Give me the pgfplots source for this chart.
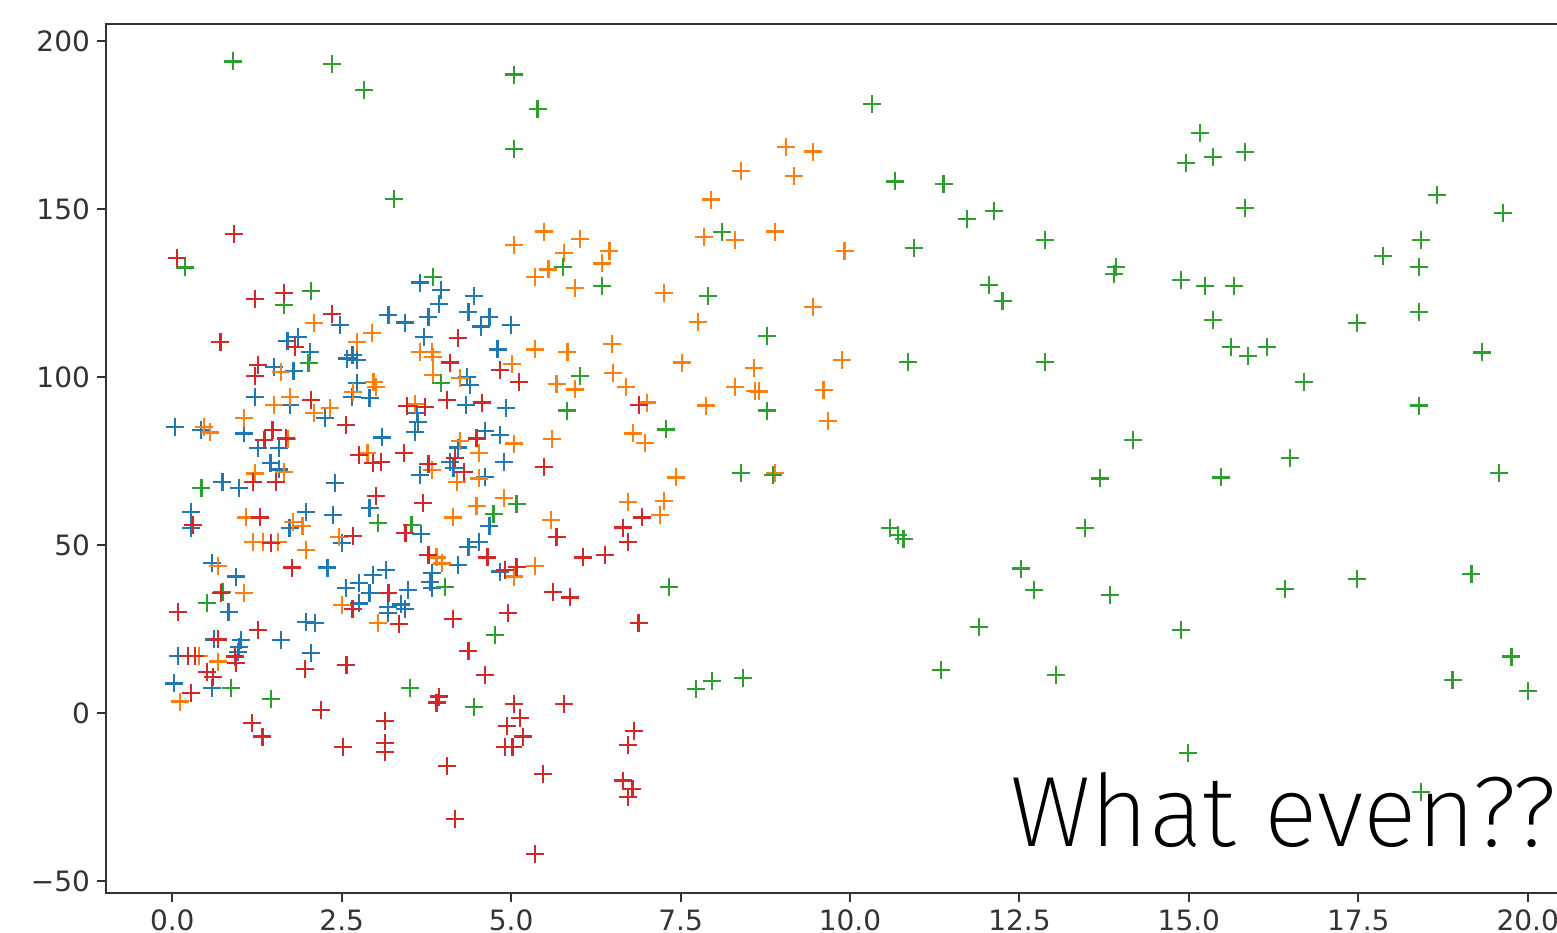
\documentclass[border=0pt]{standalone}
\usepackage{fontspec}
\usepackage{pgfplots}
\pgfplotsset{compat=1.18}
\newfontfamily\dejavu{DejaVu Sans}
\IfFontExistsTF{Fira Sans ExtraLight}{%
  \newfontfamily\thinfont{Fira Sans ExtraLight}\def\thinsize{50}}{%
  \IfFontExistsTF{Fira Sans Light}{%
    \newfontfamily\thinfont{Fira Sans Light}\def\thinsize{50}}{%
    \IfFontExistsTF{Lato Light}{%
      \newfontfamily\thinfont{Lato Light}\def\thinsize{52}}{%
      \IfFontExistsTF{Open Sans Light}{%
        \newfontfamily\thinfont{Open Sans Light}\def\thinsize{50}}{%
        \newfontfamily\thinfont{Lato}\def\thinsize{52}}}}}
\definecolor{cblue}{HTML}{1F77B4}
\definecolor{corange}{HTML}{FF7F0E}
\definecolor{cgreen}{HTML}{2CA02C}
\definecolor{cred}{HTML}{D62728}
\pgfplotstableread{
x y
0.04 85.0
0.42 84.2
1.06 83.2
2.48 115.4
3.19 118.5
3.43 116.2
1.70 110.7
1.85 111.8
2.03 107.5
2.58 105.5
2.66 106.5
2.72 105.0
1.50 102.9
1.79 101.8
2.72 98.3
2.65 94.1
2.91 93.7
1.22 94.1
1.74 91.7
2.25 87.7
3.10 82.0
1.26 78.8
1.58 78.8
1.45 74.3
1.57 72.5
0.74 68.8
0.98 66.9
2.40 68.5
0.28 59.9
0.28 55.0
1.97 59.9
2.37 58.9
2.91 60.9
1.73 55.0
2.51 50.5
0.59 44.7
2.29 43.3
0.94 40.6
0.83 30.1
2.56 37.1
2.76 38.6
2.96 41.1
3.15 42.6
2.91 35.8
2.76 32.6
3.18 31.6
3.18 29.7
3.37 32.3
3.43 31.0
1.97 27.2
2.10 26.7
1.61 21.7
0.62 21.9
1.01 21.7
0.99 19.7
0.97 18.2
0.09 17.0
2.05 17.8
0.03 8.8
0.59 7.4
3.66 128.1
3.97 125.9
4.45 124.1
3.94 121.7
4.37 119.4
4.68 117.9
4.55 115.0
5.00 115.5
3.78 117.9
3.71 112.0
4.80 108.2
4.35 100.1
4.39 97.6
3.61 89.2
3.63 86.7
3.58 83.7
4.33 91.7
4.92 90.7
4.61 84.0
4.84 82.7
4.22 79.0
3.66 70.8
4.10 74.8
4.15 72.8
4.62 70.3
4.89 74.8
4.68 55.7
3.67 53.3
4.37 49.5
4.53 51.0
4.21 44.0
4.84 42.1
3.83 41.6
3.80 39.1
3.83 37.1
3.48 36.6
}\blue
\pgfplotstableread{
x y
2.09 116.1
2.72 110.5
2.95 113.0
1.61 101.6
2.97 98.6
3.00 97.1
2.67 95.6
1.50 91.7
1.74 94.1
2.09 89.4
2.33 90.7
0.47 85.2
0.56 83.5
1.06 87.7
1.70 81.5
2.88 77.3
1.65 71.8
1.22 71.3
1.09 58.2
1.78 56.9
1.92 55.7
1.19 51.0
1.34 51.0
1.56 51.0
1.97 48.5
2.46 52.5
0.67 43.8
1.06 35.8
2.51 32.1
3.03 26.7
0.39 17.0
0.67 15.3
0.11 3.4
5.48 143.3
5.04 139.3
6.02 141.0
5.78 137.0
6.45 137.6
6.34 133.8
5.55 132.0
5.35 129.7
5.94 126.4
7.25 124.9
3.66 107.5
3.83 107.5
3.85 106.0
5.35 108.2
5.83 107.5
6.49 109.8
7.52 104.3
5.01 103.8
3.85 100.6
4.24 99.6
5.67 97.9
5.94 96.3
6.50 101.3
6.69 97.1
7.00 92.4
6.80 83.2
6.97 80.4
3.58 92.0
4.25 81.0
5.04 80.2
5.60 81.5
3.83 72.3
4.20 68.8
4.53 77.3
4.53 69.8
7.43 70.1
4.14 58.2
4.49 61.6
4.89 63.9
5.59 57.4
6.73 62.9
7.25 63.1
7.20 58.9
3.90 46.3
3.98 44.5
5.04 40.6
5.35 43.8
9.06 168.5
9.45 167.1
8.39 161.4
9.17 159.9
7.95 152.8
7.84 141.6
8.30 140.8
8.89 143.3
9.92 137.6
7.76 116.3
9.45 120.9
8.58 102.7
9.88 105.1
8.30 97.1
8.60 95.9
8.66 95.7
9.61 96.2
7.88 91.5
9.68 86.8
8.89 71.5
}\orange
\pgfplotstableread{
x y
0.90 193.9
2.36 193.2
2.83 185.3
5.04 190.0
5.39 179.7
5.04 167.8
3.27 153.0
0.19 132.6
1.65 121.4
2.05 125.7
2.01 104.1
0.43 66.9
3.03 56.5
0.74 36.1
0.51 32.8
0.87 7.4
1.46 4.2
3.51 7.4
4.45 1.9
3.85 129.7
5.76 132.8
6.34 127.2
3.97 98.1
6.02 100.4
5.82 90.0
7.28 84.4
5.08 62.2
4.74 59.2
3.53 56.0
4.02 37.6
7.33 37.6
4.76 23.2
7.73 7.2
10.32 181.3
10.66 158.2
11.38 157.4
11.73 147.0
12.12 149.5
12.88 140.8
8.11 143.1
10.94 138.4
7.91 124.2
12.05 127.4
12.25 122.5
8.78 112.1
10.86 104.4
12.88 104.4
8.78 90.0
8.39 71.5
8.86 70.8
10.59 55.0
10.71 53.0
10.79 51.7
13.69 69.8
13.47 55.0
12.52 43.0
12.71 36.6
11.90 25.5
11.34 12.8
13.04 11.3
7.96 9.6
8.42 10.3
13.84 35.1
15.16 172.5
14.96 163.7
15.35 165.4
15.83 166.9
15.83 150.3
18.66 154.2
19.64 148.7
18.42 140.8
17.87 135.9
18.39 132.8
13.93 132.8
13.89 130.7
14.88 128.9
15.24 127.2
15.67 127.2
15.36 117.0
17.48 116.1
18.39 119.3
15.62 109.0
15.87 106.3
16.15 109.0
19.33 107.3
16.70 98.6
18.39 91.5
14.17 81.3
16.49 75.8
15.47 70.1
19.57 71.5
16.42 36.8
17.48 39.9
19.17 41.4
14.88 24.7
19.76 16.8
18.89 9.8
20.00 6.6
14.99 -11.8
18.42 -23.4
}\green
\pgfplotstableread{
x y
0.91 142.5
0.07 135.3
1.22 123.3
1.65 125.1
2.36 118.8
0.71 110.5
1.81 109.0
1.26 103.6
1.22 100.4
2.05 93.2
2.56 85.7
1.48 84.2
1.36 81.3
1.68 81.7
1.19 68.8
1.53 68.8
2.75 76.8
2.96 74.3
3.08 74.7
3.42 77.3
3.00 64.6
0.30 56.0
1.30 58.2
1.46 50.5
2.67 52.7
3.44 53.5
1.77 43.3
0.72 35.8
0.08 30.1
3.19 35.8
2.66 30.9
3.35 26.5
1.26 24.7
0.67 21.9
0.23 17.0
0.33 17.0
0.92 16.8
0.94 14.8
0.51 12.3
0.60 10.6
1.96 13.0
2.57 14.3
0.28 6.0
1.18 -2.9
1.33 -7.0
2.20 0.9
3.14 -2.3
2.52 -10.2
3.14 -9.0
3.14 -11.6
3.93 4.9
3.90 3.1
5.04 2.7
5.13 -1.6
4.94 -3.9
5.17 -7.0
4.91 -10.2
5.02 -10.2
5.78 2.7
6.81 -5.3
6.73 -9.5
6.65 -20.1
6.79 -22.7
6.73 -25.1
4.05 -15.8
5.47 -18.2
4.17 -31.6
5.35 -42.0
4.21 111.5
4.10 104.3
4.84 102.1
5.12 98.6
3.46 91.4
3.73 91.0
4.05 93.2
4.57 92.4
4.49 81.7
6.89 91.7
3.78 74.1
4.17 75.8
4.30 71.8
5.48 73.3
3.70 62.4
5.67 52.5
6.93 58.2
6.65 55.2
6.73 51.0
4.65 46.3
3.78 47.0
4.91 42.6
5.08 43.5
6.06 46.3
6.38 47.0
5.62 36.1
5.87 34.4
4.95 29.7
4.14 27.9
6.88 26.7
4.37 18.5
4.61 11.3
}\red
\begin{document}
\begin{tikzpicture}
\begin{axis}[
  at={(0,0)}, anchor=south west,
  scale only axis, width=744.75pt, height=434.5pt,
  xmin=-0.978, xmax=21.0, ymin=-53.57, ymax=205.06,
  axis line style={line width=1pt, color=black!80},
  every tick/.style={line width=1pt, color=black!80},
  major tick length=4.5pt,
  tick align=outside, tick pos=left,
  xtick={0,2.5,5,7.5,10,12.5,15,17.5,20},
  xticklabels={0.0,2.5,5.0,7.5,10.0,12.5,15.0,17.5,20.0},
  ytick={-50,0,50,100,150,200},
  yticklabels={−50,0,50,100,150,200},
  ticklabel style={font=\dejavu\fontsize{14}{16}\selectfont, text=black!80},
  xticklabel style={yshift=-0.5pt},
]
\addplot[only marks, mark=+, mark size=4.5pt, line width=1.1pt, color=cblue] table {\blue};
\addplot[only marks, mark=+, mark size=4.5pt, line width=1.1pt, color=corange] table {\orange};
\addplot[only marks, mark=+, mark size=4.5pt, line width=1.1pt, color=cgreen] table {\green};
\addplot[only marks, mark=+, mark size=4.5pt, line width=1.1pt, color=cred] table {\red};
\end{axis}
\node[anchor=base west, inner sep=0pt] at (452pt,23.5pt) {\thinfont\fontsize{\thinsize}{\thinsize}\selectfont What even??};
\pgfresetboundingbox
\useasboundingbox (-53pt,-19.5pt) rectangle (725.5pt,446.5pt);
\end{tikzpicture}
\end{document}
